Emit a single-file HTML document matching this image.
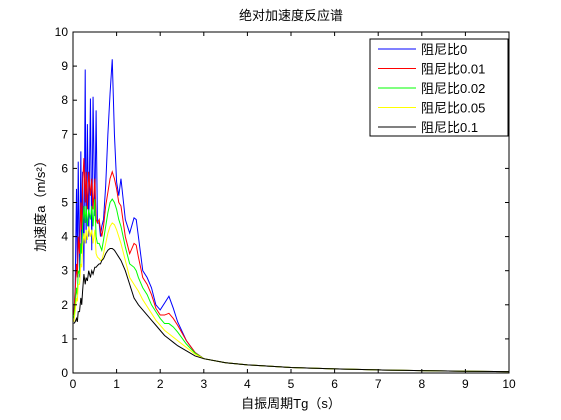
<!DOCTYPE html>
<html><head><meta charset="utf-8">
<style>
html,body{margin:0;padding:0;background:#fff;}
svg{display:block;font-family:"Liberation Sans","Noto Sans CJK SC",sans-serif;}
</style></head>
<body>
<svg id="chart" width="561" height="420" xmlns="http://www.w3.org/2000/svg">
<rect x="0" y="0" width="561" height="420" fill="#fff"/>
<rect x="73" y="32" width="436" height="341" fill="#fff"/>
<text x="291" y="20" text-anchor="middle" font-size="13">绝对加速度反应谱</text>
<text x="291" y="408" text-anchor="middle" font-size="13">自振周期Tg（s）</text>
<text transform="translate(45,203) rotate(-90)" text-anchor="middle" font-size="13">加速度a（m/s²）</text>
<g id="series"></g>
<g id="axes"></g>
<g id="legend"></g>
</svg>
<script>
const periods=[0.02,0.05,0.08,0.1,0.12,0.15,0.18,0.2,0.22,0.25,0.28,0.3,0.33,0.36,0.4,0.43,0.46,0.5,0.53,0.56,0.6,0.63,0.66,0.7,0.75,0.8,0.85,0.9,0.95,1.0,1.05,1.1,1.2,1.3,1.4,1.45,1.5,1.6,1.7,1.8,1.9,2.0,2.1,2.2,2.3,2.4,2.6,2.8,3.0,3.5,4,5,6,7,8,9,10];
const damp0=[1.7,2.5,5.4,3.0,6.2,2.8,6.5,3.5,5.9,3.0,8.9,3.8,7.3,4.0,8.05,3.6,8.1,4.6,7.7,4.4,4.4,4.0,4.3,4.5,5.5,7.0,8.2,9.2,7.0,5.6,5.2,5.7,4.5,4.1,4.55,4.5,4.0,3.0,2.8,2.5,2.0,1.85,2.05,2.25,1.9,1.5,0.95,0.6,0.42,0.3,0.24,0.16,0.12,0.09,0.07,0.05,0.04];
const damp001=[1.7,2.4,3.2,2.8,4.0,3.5,5.0,4.2,5.5,6.3,5.0,5.9,4.8,5.9,5.2,5.7,4.8,5.7,4.5,4.4,4.5,4.2,4.0,4.3,4.9,5.3,5.7,5.9,5.7,5.4,5.0,4.9,4.0,3.5,3.8,3.75,3.4,2.8,2.6,2.3,1.9,1.7,1.7,1.75,1.6,1.4,0.95,0.6,0.42,0.3,0.24,0.16,0.12,0.09,0.07,0.05,0.04];
const damp002=[1.6,2.0,2.5,2.3,3.0,2.9,3.8,3.5,4.3,4.9,4.4,4.9,4.3,4.8,4.5,4.9,4.3,5.1,4.0,3.8,3.8,3.7,3.6,3.9,4.3,4.7,5.0,5.1,5.0,4.8,4.5,4.3,3.7,3.2,3.1,3.0,2.8,2.5,2.3,2.0,1.8,1.6,1.45,1.45,1.35,1.2,0.85,0.58,0.42,0.3,0.24,0.16,0.12,0.09,0.07,0.05,0.04];
const damp005=[1.5,1.8,2.2,2.1,2.6,2.6,3.2,3.1,3.7,4.1,3.8,4.2,3.9,4.3,4.0,4.2,3.8,4.2,3.5,3.4,3.35,3.3,3.3,3.5,3.8,4.1,4.3,4.4,4.35,4.2,4.0,3.8,3.3,2.8,2.6,2.5,2.4,2.15,1.95,1.75,1.55,1.4,1.25,1.15,1.05,0.95,0.75,0.55,0.42,0.3,0.24,0.16,0.12,0.09,0.07,0.05,0.04];
const damp01=[1.45,1.5,1.6,1.5,1.8,1.8,2.2,2.0,2.4,2.9,2.6,2.8,2.7,3.0,2.8,3.0,2.9,3.1,3.1,3.15,3.2,3.2,3.3,3.35,3.5,3.6,3.65,3.65,3.6,3.5,3.4,3.3,3.0,2.6,2.2,2.1,2.0,1.85,1.7,1.55,1.4,1.25,1.1,1.0,0.9,0.8,0.65,0.5,0.42,0.3,0.24,0.16,0.12,0.09,0.07,0.05,0.04];
const seriesNames=["阻尼比0","阻尼比0.01","阻尼比0.02","阻尼比0.05","阻尼比0.1"];
const seriesColors=["#0000ff","#ff0000","#00ff00","#ffff00","#000000"];
const seriesData=[damp0,damp001,damp002,damp005,damp01];
const xTicks=[0,1,2,3,4,5,6,7,8,9,10];
const yTicks=[0,1,2,3,4,5,6,7,8,9,10];

const NS="http://www.w3.org/2000/svg";
const L=73,R=509,T=32,B=373;
function xs(v){return L+(v-0)/(10-0)*(R-L);}
function ys(v){return B-(v-0)/(10-0)*(B-T);}
function mk(tag,attrs,parent){const e=document.createElementNS(NS,tag);for(const k in attrs)e.setAttribute(k,attrs[k]);parent.appendChild(e);return e;}

const sg=document.getElementById('series');
seriesData.forEach((d,i)=>{
  const pts=d.map((v,j)=>xs(periods[j]).toFixed(2)+","+ys(v).toFixed(2)).join(" ");
  const pl=mk('polyline',{points:pts,fill:'none',stroke:seriesColors[i],'stroke-width':1},sg);
  
  
});

const ag=document.getElementById('axes');
const box=mk('rect',{x:L,y:T,width:R-L,height:B-T,fill:'none',stroke:'#000','stroke-width':1},ag);


xTicks.forEach(t=>{
  const x=xs(t);
  mk('line',{x1:x,y1:B,x2:x,y2:B-4,stroke:'#000'},ag);
  mk('line',{x1:x,y1:T,x2:x,y2:T+4,stroke:'#000'},ag);
  const tx=mk('text',{x:x,y:B+15,'text-anchor':'middle','font-size':12},ag);
  tx.textContent=t;
  
  
});
yTicks.forEach(t=>{
  const y=ys(t);
  mk('line',{x1:L,y1:y,x2:L+4,y2:y,stroke:'#000'},ag);
  mk('line',{x1:R,y1:y,x2:R-4,y2:y,stroke:'#000'},ag);
  const tx=mk('text',{x:L-5,y:y+4,'text-anchor':'end','font-size':12},ag);
  tx.textContent=t;
  
  
});

const lg=document.getElementById('legend');
const lb=mk('rect',{x:370,y:39,width:138,height:97,fill:'#fff',stroke:'#000','stroke-width':1},lg);


seriesNames.forEach((n,i)=>{
  const y=49+i*19.5;
  const ln=mk('line',{x1:378,y1:y,x2:416,y2:y,stroke:seriesColors[i],'stroke-width':1},lg);
  
  
  const tx=mk('text',{x:421,y:y+5,'font-size':13},lg);
  tx.textContent=n;
  
  
});
</script>
</body></html>
